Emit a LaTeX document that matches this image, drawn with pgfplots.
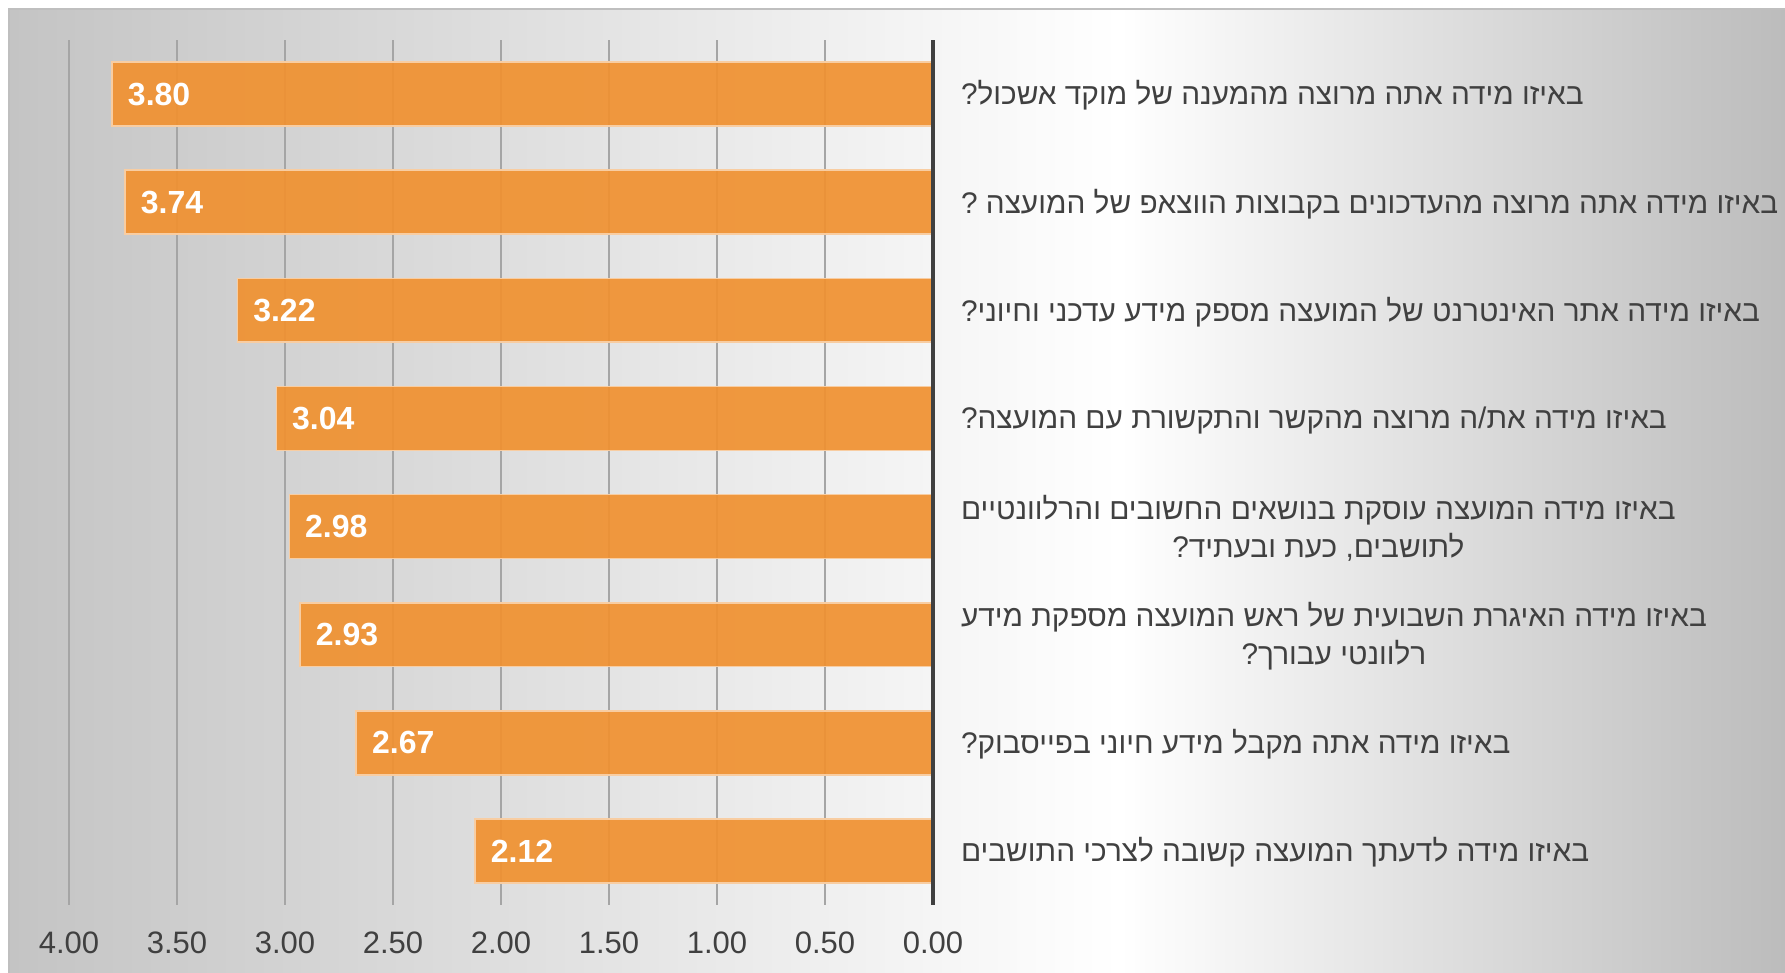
\documentclass[border=0pt]{standalone}
\usepackage{fontspec}
\setmainfont{Liberation Sans}
\newfontfamily\hebfont[Script=Hebrew]{Liberation Sans}
\TeXXeTstate=1
\usepackage{pgfplots}
\pgfplotsset{compat=1.18}

\definecolor{barorange}{RGB}{240,145,48}
\definecolor{txtgray}{RGB}{64,64,64}
\definecolor{gridgray}{RGB}{165,165,165}
\definecolor{bgleft}{RGB}{196,196,196}
\definecolor{bgright}{RGB}{188,188,188}

\newcommand{\heb}[1]{{\hebfont\beginR #1\endR}}

\begin{document}
\begin{tikzpicture}
\useasboundingbox (0,0) rectangle (892.5bp,486.5bp);
% background frame
\fill[white] (0,0) rectangle (892.5bp,486.5bp);
\shade[left color=bgleft,right color=white] (4.5bp,0) rectangle (560bp,482bp);
\shade[left color=white,right color=bgright] (560bp,0) rectangle (892.5bp,482bp);
\draw[gray!50,line width=0.6bp] (4.5bp,0) -- (4.5bp,482bp) -- (892.5bp,482bp);

\begin{axis}[
  at={(34.5bp,34bp)}, anchor=south west,
  scale only axis, width=432bp, height=432.5bp,
  xbar, bar width=0.59,
  xmin=0, xmax=4, x dir=reverse,
  ymin=0.5, ymax=8.5, y dir=reverse,
  axis line style={draw=none},
  major tick length=0pt,
  ytick=\empty,
  xtick={0,0.5,...,4},
  xmajorgrids,
  grid style={gridgray,line width=0.6bp},
  /pgf/number format/assume math mode=true,
  xticklabel={\pgfmathprintnumber[fixed,fixed zerofill,precision=2]{\tick}},
  xticklabel style={font=\fontsize{15.5bp}{18bp}\selectfont, text=txtgray, inner sep=0pt, anchor=north, yshift=-13bp},
  nodes near coords={\pgfmathprintnumber[fixed,fixed zerofill,precision=2]{\pgfplotspointmeta}},
  point meta=x,
  nodes near coords style={anchor=west, inner sep=0pt, xshift=7.5bp, text=white, opacity=1,
    font=\fontsize{16bp}{19bp}\selectfont\bfseries},
  clip=false,
]
\addplot[fill=barorange, fill opacity=0.92, draw=white!55!barorange, line width=0.8bp]
  coordinates {
    (3.80,1)
    (3.74,2)
    (3.22,3)
    (3.04,4)
    (2.98,5)
    (2.93,6)
    (2.67,7)
    (2.12,8)
  };
\draw[txtgray,line width=1.6bp] (axis cs:0,0.5) -- (axis cs:0,8.5);

\begin{scope}[every node/.style={anchor=west, xshift=10.5bp, yshift=-0.8bp, align=center, text=txtgray,
    font=\fontsize{14.9bp}{18.8bp}\selectfont}]
\node at (axis cs:0,1) {\heb{באיזו מידה אתה מרוצה מהמענה של מוקד אשכול?}};
\node at (axis cs:0,2) {\heb{באיזו מידה אתה מרוצה מהעדכונים בקבוצות הווצאפ של המועצה ?}};
\node at (axis cs:0,3) {\heb{באיזו מידה אתר האינטרנט של המועצה מספק מידע עדכני וחיוני?}};
\node at (axis cs:0,4) {\heb{באיזו מידה את/ה מרוצה מהקשר והתקשורת עם המועצה?}};
\node at (axis cs:0,5) {\heb{באיזו מידה המועצה עוסקת בנושאים החשובים והרלוונטיים}\\\heb{לתושבים, כעת ובעתיד?}};
\node at (axis cs:0,6) {\heb{באיזו מידה האיגרת השבועית של ראש המועצה מספקת מידע}\\\heb{רלוונטי עבורך?}};
\node at (axis cs:0,7) {\heb{באיזו מידה אתה מקבל מידע חיוני בפייסבוק?}};
\node at (axis cs:0,8) {\heb{באיזו מידה לדעתך המועצה קשובה לצרכי התושבים}};
\end{scope}
\end{axis}
\end{tikzpicture}
\end{document}
